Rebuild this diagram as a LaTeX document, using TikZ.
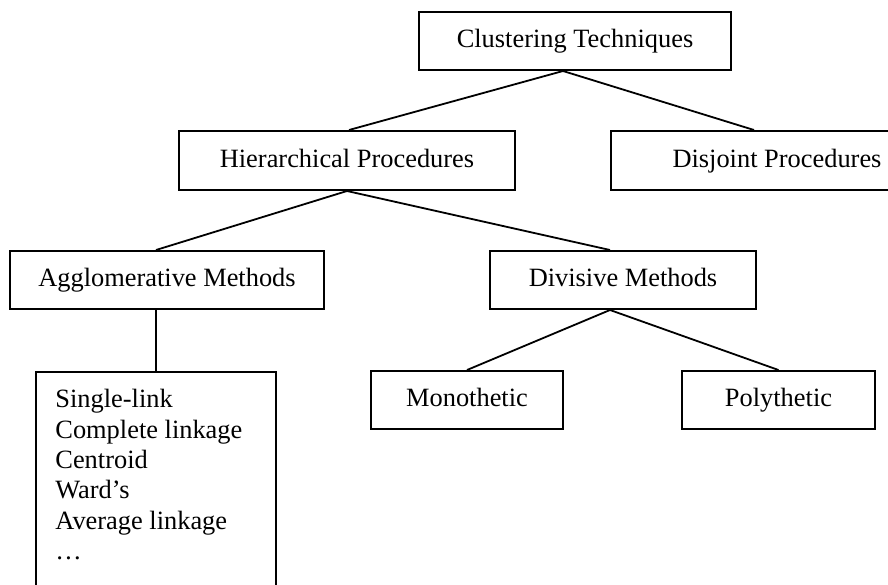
\documentclass[tikz,border=0pt]{standalone}
\usepackage{fontspec}
\setmainfont{Liberation Serif}
\usetikzlibrary{calc}
\tikzset{
  box/.style={draw=black, line width=1pt, rectangle, inner sep=0pt,
    text height=9.4pt, text depth=2.6pt,
    font=\fontsize{13.2}{15.2}\selectfont},
  link/.style={draw=black, line width=0.9pt},
  listtext/.style={inner sep=0pt, align=left, anchor=north west,
    font=\fontsize{13.2}{15.2}\selectfont}
}
\begin{document}
\begin{tikzpicture}[x=0.5pt, y=-0.5pt]
  \clip (0,0) rectangle (888,584);
  \fill[white] (0,0) rectangle (888,584);

  % tree boxes
  \node[box, minimum width=156pt, minimum height=29pt] (ct) at (575,41) {Clustering Techniques};
  \node[box, minimum width=168pt, minimum height=29.5pt] (hp) at (347,160.5) {Hierarchical Procedures};
  \node[box, minimum width=166pt, minimum height=29.5pt] (dp) at (777,160.5) {Disjoint Procedures};
  \node[box, minimum width=157pt, minimum height=29pt] (ag) at (167,280) {Agglomerative Methods};
  \node[box, minimum width=133pt, minimum height=29pt] (dm) at (623,280) {Divisive Methods};
  \node[box, minimum width=96pt, minimum height=29pt] (mo) at (467,400) {Monothetic};
  \node[box, minimum width=96.5pt, minimum height=29pt] (po) at (778.5,400) {Polythetic};

  % list of agglomerative linkage methods
  \node[box, text height=, text depth=, anchor=north west, minimum width=120pt, minimum height=125pt] (al) at (35,371) {};
  \node[listtext] (altext) at (55,389) {Single-link\\Complete linkage\\Centroid\\Ward’s\\Average linkage\\…};

  % connectors
  \draw[link] ($(ct.south)+(-12,0)$) -- ($(hp.north)+(2,0)$);
  \draw[link] ($(ct.south)+(-12,0)$) -- ($(dp.north)+(-23,0)$);
  \draw[link] (hp.south) -- ($(ag.north)+(-11,0)$);
  \draw[link] (hp.south) -- ($(dm.north)+(-13,0)$);
  \draw[link] (al.north |- ag.south) -- (al.north);
  \draw[link] ($(dm.south)+(-13,0)$) -- (mo.north);
  \draw[link] ($(dm.south)+(-13,0)$) -- (po.north);
\end{tikzpicture}
\end{document}
